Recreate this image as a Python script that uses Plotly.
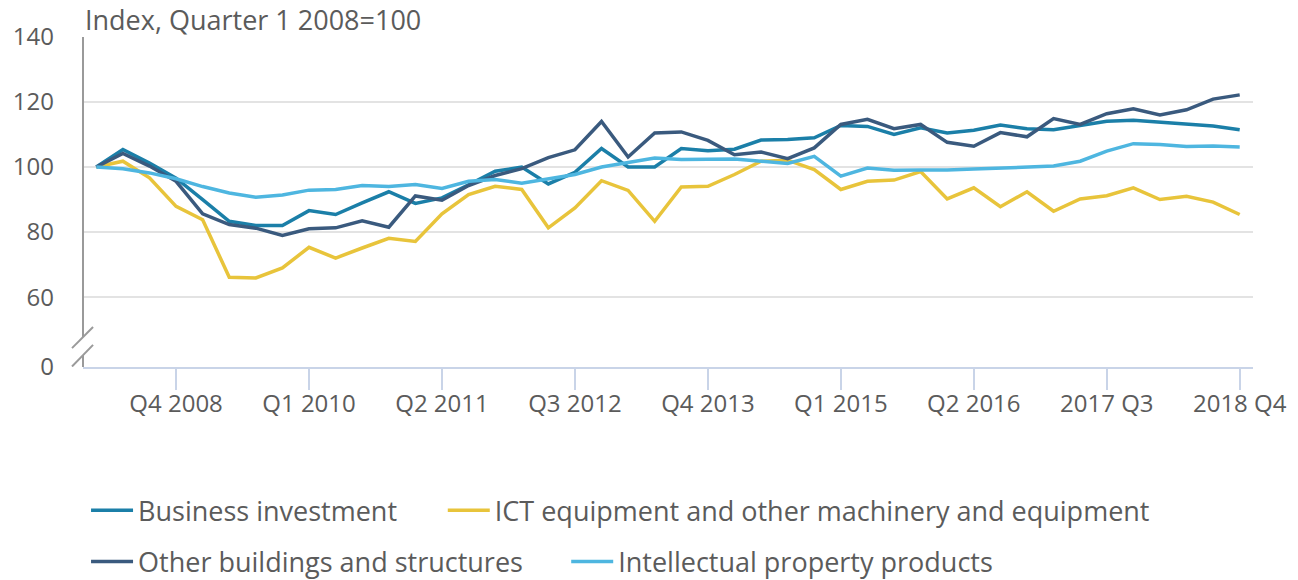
import plotly.graph_objects as go

quarters = [f"{y} Q{q}" for y in range(2008, 2019) for q in range(1, 5)]

business_investment = [100, 105.4, 101.2, 96.6, 90, 83.3, 82, 82, 86.6, 85.4,
                       89, 92.4, 88.8, 90.5, 94.5, 98.7, 100, 94.8, 98.4, 105.7,
                       100, 100, 105.7, 105, 105.5, 108.3, 108.5, 109, 112.8, 112.5,
                       110, 112.1, 110.5, 111.3, 112.9, 111.8, 111.5, 112.9, 114.1, 114.4,
                       113.8, 113.3, 112.6, 111.5]
ict_equipment = [100, 101.8, 96.7, 87.9, 83.8, 66.1, 65.9, 69, 75.3, 72,
                 75.1, 78.1, 77.1, 85.6, 91.5, 94.1, 93.1, 81.3, 87.4, 95.8,
                 92.8, 83.3, 93.9, 94.1, 97.7, 101.8, 102.1, 99.2, 93.1, 95.6,
                 96, 98.6, 90.2, 93.6, 87.8, 92.4, 86.4, 90.2, 91.2, 93.6,
                 90, 91, 89.2, 85.4]
other_buildings = [100, 104.2, 100.3, 95.6, 85.6, 82.3, 81.2, 79, 81, 81.3,
                   83.5, 81.5, 91.1, 89.8, 94.3, 97.4, 99.5, 102.9, 105.3, 114,
                   103.1, 110.5, 110.8, 108.2, 103.8, 104.6, 102.6, 105.9, 113.1, 114.7,
                   111.8, 113.1, 107.6, 106.4, 110.6, 109.3, 114.9, 113.1, 116.4, 117.9,
                   116, 117.6, 120.9, 122.2]
intellectual_property = [100, 99.5, 98.2, 96.4, 94, 92, 90.7, 91.4, 92.9, 93.1,
                         94.3, 94, 94.6, 93.4, 95.6, 96.2, 95, 96.3, 97.7, 100,
                         101.3, 102.8, 102.3, 102.4, 102.5, 101.8, 101.1, 103.3, 97.2, 99.7,
                         99, 99.1, 99.1, 99.4, 99.7, 100.2, 100.3, 101.8, 104.9, 107.2,
                         106.9, 106.3, 106.5, 106.2]

series_names = ["Business investment",
                "ICT equipment and other machinery and equipment",
                "Other buildings and structures",
                "Intellectual property products"]
series_values = [business_investment, ict_equipment, other_buildings, intellectual_property]
series_colors = ["#1b7fa8", "#e8c43b", "#3a5a7e", "#4eb6e0"]

x_tick_cats = ["2008 Q4", "2010 Q1", "2011 Q2", "2012 Q3", "2013 Q4",
               "2015 Q1", "2016 Q2", "2017 Q3", "2018 Q4"]
x_tick_text = ["Q4 2008", "Q1 2010", "Q2 2011", "Q3 2012", "Q4 2013",
               "Q1 2015", "Q2 2016", "2017 Q3", "2018 Q4"]

AXIS_BREAK = 38.5  # value where the displayed "0" sits (broken axis)
y_tick_vals = [AXIS_BREAK, 60, 80, 100, 120, 140]
y_tick_text = ["0", "60", "80", "100", "120", "140"]

FONT = "Open Sans"
TEXT = "#5b5b5b"

# one legend per entry so each can sit where the original places it
legend_ids = ["legend", "legend2", "legend3", "legend4"]
legend_pos = [(0.0026, -0.4355), (0.3075, -0.4355), (0.0026, -0.591), (0.413, -0.591)]

fig = go.Figure()
for name, vals, col, lg in zip(series_names, series_values, series_colors, legend_ids):
    fig.add_trace(go.Scatter(x=quarters, y=vals, name=name, mode="lines",
                             line=dict(color=col, width=3.5), legend=lg,
                             showlegend=True))

legend_layout = {}
for lg, (lx, ly) in zip(legend_ids, legend_pos):
    legend_layout[lg] = dict(orientation="h", x=lx, xanchor="left", y=ly, yanchor="middle",
                             itemwidth=42, visible=True,
                             font=dict(size=27, color=TEXT, family=FONT),
                             bgcolor="rgba(0,0,0,0)")

# broken y-axis line and break marks
shapes = [
    dict(type="line", xref="paper", yref="y", x0=0, x1=0, y0=47.7, y1=140,
         line=dict(color="#9a9a9a", width=2)),
    dict(type="line", xref="paper", yref="y", x0=0, x1=0, y0=AXIS_BREAK, y1=42.2,
         line=dict(color="#9a9a9a", width=2)),
    dict(type="line", xref="paper", yref="y", x0=-0.0094, x1=0.0086, y0=44.3, y1=50.8,
         line=dict(color="#9a9a9a", width=2)),
    dict(type="line", xref="paper", yref="y", x0=-0.0094, x1=0.0086, y0=38.65, y1=45.3,
         line=dict(color="#9a9a9a", width=2)),
]

fig.update_layout(
    width=1298, height=580,
    showlegend=True,
    margin=dict(l=83, r=45, t=37, b=213, autoexpand=False),
    paper_bgcolor="white", plot_bgcolor="white",
    font=dict(family=FONT, color=TEXT, size=24),
    shapes=shapes,
    xaxis=dict(type="category", range=[-0.5, 43.5],
               tickmode="array", tickvals=x_tick_cats, ticktext=x_tick_text,
               ticks="outside", ticklen=21, tickwidth=2, tickcolor="#c9d4e8",
               ticklabelstandoff=-7,
               showline=True, linecolor="#c9d4e8", linewidth=2,
               showgrid=False, zeroline=False,
               tickfont=dict(size=24, color=TEXT, family=FONT)),
    yaxis=dict(range=[AXIS_BREAK, 140], tickmode="array",
               tickvals=y_tick_vals, ticktext=y_tick_text,
               showgrid=True, gridcolor="#e3e3e3", gridwidth=2,
               showline=False, zeroline=False, ticks="",
               ticklabelstandoff=28,
               tickfont=dict(size=24, color=TEXT, family=FONT)),
    annotations=[dict(text="Index, Quarter 1 2008=100", xref="paper", yref="paper",
                      x=0, y=1.052, xanchor="left", yanchor="middle", showarrow=False,
                      font=dict(size=27, color=TEXT, family=FONT))],
    hovermode="x unified",
    **legend_layout,
)

fig.write_html("out.html", config={"displayModeBar": False},
               post_script="document.body.style.margin='0';document.body.style.overflow='hidden';")
